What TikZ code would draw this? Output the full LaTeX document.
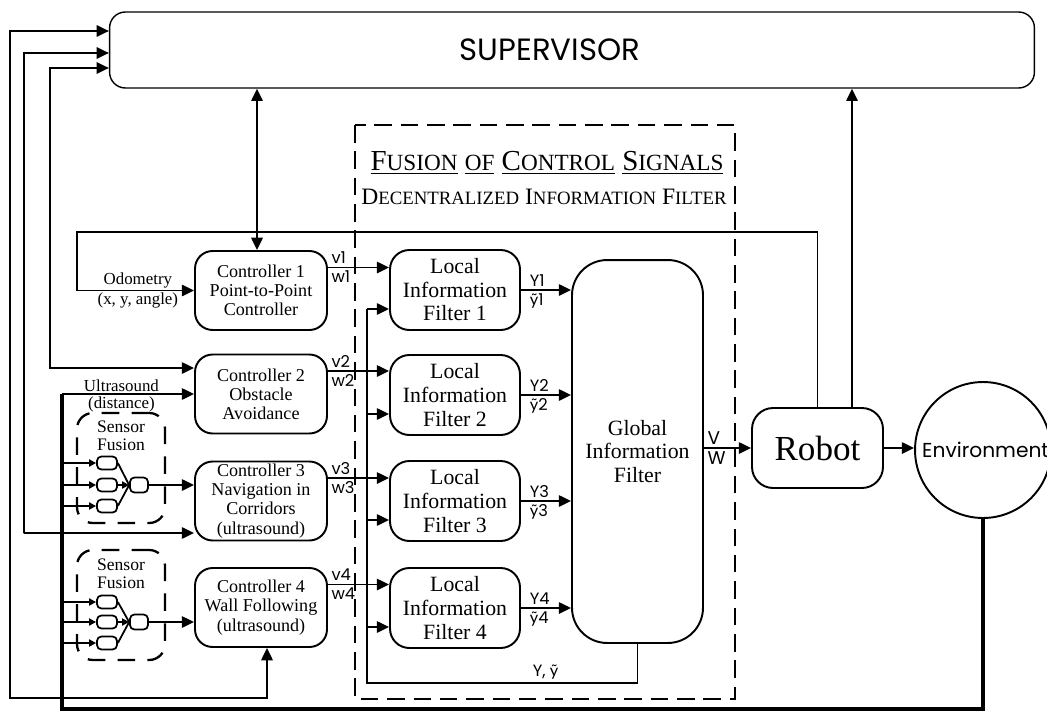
\documentclass[tikz,border=0pt]{standalone}
\usepackage{fontspec}
\setmainfont{Liberation Serif}
\newfontfamily\gothique{Poppins}
\newfontfamily\lato{Lato}
\usetikzlibrary{arrows.meta}
\newcommand{\grandpc}[2]{{\fontsize{16.5}{18}\selectfont #1}{\fontsize{13.2}{15}\selectfont #2}}
\newcommand{\petitpc}[2]{{\fontsize{13.4}{15}\selectfont #1}{\fontsize{10.7}{12}\selectfont #2}}
\newcommand{\ty}{{\lato ỹ}}
\begin{document}
\begin{tikzpicture}[x=0.02cm,y=-0.02cm]
\tikzset{bloc/.style={draw, rounded corners=10pt, line width=1.1pt, align=center, inner sep=0pt, minimum width=2.64cm, minimum height=1.58cm, font=\fontsize{10.3}{10.9}\selectfont}}
\tikzset{filtre/.style={bloc, rounded corners=11pt, minimum width=2.6cm, minimum height=1.6cm, font=\fontsize{12.4}{13.4}\selectfont}}
\tikzset{minibloc/.style={draw, rounded corners=2.5pt, line width=1pt, inner sep=0pt, minimum width=0.4cm, minimum height=0.26cm}}
\tikzset{sfzone/.style={draw, dash pattern=on 10pt off 7pt, line width=1.3pt, rounded corners=9pt, minimum width=1.76cm, minimum height=2.2cm}}
\tikzset{fleche/.style={line width=1.1pt, -{Triangle[length=7pt,width=6.5pt]}}}
\tikzset{dfleche/.style={line width=1.1pt, {Triangle[length=7pt,width=6.5pt]}-{Triangle[length=7pt,width=6.5pt]}}}
\tikzset{petitefleche/.style={line width=1pt, -{Triangle[length=4pt,width=4pt]}}}
\tikzset{etiq/.style={inner sep=1pt, align=center, font=\fontsize{9.6}{10.2}\selectfont}}
\tikzset{sig/.style={inner sep=1.5pt, font=\gothique\fontsize{9.3}{10}\selectfont}}
\clip (0,0) rectangle (1047,713);
\node[draw, rounded corners=9pt, line width=0.8pt, minimum width=18.5cm, minimum height=1.52cm, font=\gothique\fontsize{17.5}{19}\selectfont] (S) at (572,50) {SUPERVISOR\rule{0.88cm}{0pt}};
\draw[dash pattern=on 10pt off 5pt, line width=1.3pt] (355,125) rectangle (735,699);
\node (T1) at (547,163) {\fontsize{16.5}{18}\selectfont\underline{\grandpc{F}{USION}} \underline{\grandpc{}{OF}} \underline{\grandpc{C}{ONTROL}} \underline{\grandpc{S}{IGNALS}}};
\node (T2) at (544,197) {\fontsize{13.4}{15}\selectfont\petitpc{D}{ECENTRALIZED} \petitpc{I}{NFORMATION} \petitpc{F}{ILTER}};
\node[bloc] (C1) at (261,290.5) {Controller 1\\Point-to-Point\\Controller};
\node[bloc] (C2) at (261,394) {Controller 2\\Obstacle\\Avoidance};
\node[bloc] (C3) at (261,501) {Controller 3\\Navigation in\\Corridors\\(ultrasound)};
\node[bloc] (C4) at (261,607.5) {Controller 4\\Wall Following\\(ultrasound)};
\node[filtre] (F1) at (455,290) {Local\\Information\\Filter 1};
\node[filtre] (F2) at (455,395) {Local\\Information\\Filter 2};
\node[filtre] (F3) at (455,501) {Local\\Information\\Filter 3};
\node[filtre] (F4) at (455,608) {Local\\Information\\Filter 4};
\node[filtre, rounded corners=20pt, minimum width=2.62cm, minimum height=7.66cm] (G) at (637.5,451.5) {Global\\Information\\Filter};
\node[bloc, rounded corners=12pt, minimum width=2.62cm, minimum height=1.6cm, font=\fontsize{20}{22}\selectfont] (R) at (817.5,448) {Robot};
\node[draw, circle, line width=1.1pt, inner sep=0pt, minimum size=2.72cm, font=\gothique\fontsize{11.5}{13}\selectfont] (E) at (983,450) {\rule{0.1cm}{0pt}Environment};
\node[sfzone] (Z1) at (121,468) {};
\node[sfzone] (Z2) at (121,605) {};
\node[etiq, font=\fontsize{10}{10.3}\selectfont] (L1) at (121,436) {Sensor\\Fusion};
\node[etiq, font=\fontsize{10}{10.3}\selectfont] (L2) at (121,574) {Sensor\\Fusion};
\node[minibloc] (A1) at (107,463) {};
\node[minibloc] (A2) at (107,485) {};
\node[minibloc] (A3) at (107,506) {};
\node[minibloc, minimum width=0.36cm, minimum height=0.3cm] (A) at (139,485) {};
\node[minibloc] (B1) at (107,602) {};
\node[minibloc] (B2) at (107,622) {};
\node[minibloc] (B3) at (107,643) {};
\node[minibloc, minimum width=0.36cm, minimum height=0.3cm] (B) at (139,622) {};
\coordinate (bus) at (62,709);
\coordinate (odo) at (77,232);
\coordinate (sv1) at (10,698);
\coordinate (sv2) at (24,533);
\coordinate (sv3) at (50,368);
\coordinate (ret) at (367,683);
\draw[dfleche] ([yshift=0.38cm]S.west) -| (sv1) -| ([xshift=0.12cm]C4.south);
\draw[dfleche] ([yshift=-0.06cm]S.west) -| (sv2) |- ([yshift=-0.64cm]C3.west);
\draw[dfleche] ([yshift=-0.36cm]S.west) -| (sv3) |- ([yshift=0.52cm]C2.west);
\draw[dfleche] ([xshift=-0.08cm]C1.north) -- ([xshift=-0.08cm]C1.north |- S.south);
\draw[fleche] ([xshift=0.69cm]R.north) -- ([xshift=0.69cm]R.north |- S.south);
\draw[fleche] (R.north) |- (odo) |- node[etiq, pos=0.76, above]{Odometry} node[etiq, pos=0.76, below]{(x, y, angle)} (C1.west);
\draw[line width=2pt] (E.south) |- (bus) -- (bus |- C2.west);
\draw[fleche] (bus |- C2.west) -- node[etiq, pos=0.45, above]{Ultrasound} node[etiq, pos=0.45, below]{(distance)} (C2.west);
\draw[petitefleche] (bus |- A1.west) -- (A1.west);
\draw[petitefleche] (bus |- A2.west) -- (A2.west);
\draw[petitefleche] (bus |- A3.west) -- (A3.west);
\draw[petitefleche] (bus |- B1.west) -- (B1.west);
\draw[petitefleche] (bus |- B2.west) -- (B2.west);
\draw[petitefleche] (bus |- B3.west) -- (B3.west);
\draw[line width=1pt] (A1.east) -- (A.west);
\draw[petitefleche] (A2.east) -- (A.west);
\draw[line width=1pt] (A3.east) -- (A.west);
\draw[line width=1pt] (B1.east) -- (B.west);
\draw[petitefleche] (B2.east) -- (B.west);
\draw[line width=1pt] (B3.east) -- (B.west);
\draw[fleche] (A.east) -- (A.east -| C3.west);
\draw[fleche] (B.east) -- (B.east -| C4.west);
\draw[fleche] ([yshift=0.46cm]C1.east) node[sig, above right]{v1} node[sig, below right]{w1} -- ([yshift=0.46cm]C1.east -| F1.west);
\draw[fleche] ([yshift=0.46cm]C2.east) node[sig, above right]{v2} node[sig, below right]{w2} -- ([yshift=0.46cm]C2.east -| F2.west);
\draw[fleche] ([yshift=0.46cm]C3.east) node[sig, above right]{v3} node[sig, below right]{w3} -- ([yshift=0.46cm]C3.east -| F3.west);
\draw[fleche] ([yshift=0.46cm]C4.east) node[sig, above right]{v4} node[sig, below right]{w4} -- ([yshift=0.46cm]C4.east -| F4.west);
\draw[line width=1.1pt] (G.south) |- node[sig, pos=0.67, above]{Y, \ty} (ret) -- ([yshift=-0.38cm]F1.west -| ret);
\draw[fleche] ([yshift=-0.38cm]F1.west -| ret) -- ([yshift=-0.38cm]F1.west);
\draw[fleche] ([yshift=-0.38cm]F2.west -| ret) -- ([yshift=-0.38cm]F2.west);
\draw[fleche] ([yshift=-0.38cm]F3.west -| ret) -- ([yshift=-0.38cm]F3.west);
\draw[fleche] ([yshift=-0.38cm]F4.west -| ret) -- ([yshift=-0.38cm]F4.west);
\draw[fleche] (F1.east) node[sig, above right, xshift=3pt]{Y1} node[sig, below right, xshift=3pt]{\ty1} -- (F1.east -| G.west);
\draw[fleche] (F2.east) node[sig, above right, xshift=3pt]{Y2} node[sig, below right, xshift=3pt]{\ty2} -- (F2.east -| G.west);
\draw[fleche] (F3.east) node[sig, above right, xshift=3pt]{Y3} node[sig, below right, xshift=3pt]{\ty3} -- (F3.east -| G.west);
\draw[fleche] (F4.east) node[sig, above right, xshift=3pt]{Y4} node[sig, below right, xshift=3pt]{\ty4} -- (F4.east -| G.west);
\draw[fleche] (G.east |- R.west) node[sig, font=\gothique\fontsize{10.5}{11}\selectfont, above right]{V} node[sig, font=\gothique\fontsize{10.5}{11}\selectfont, below right]{W} -- (R.west);
\draw[fleche] (R.east) -- (R.east -| E.west);
\end{tikzpicture}
\end{document}
